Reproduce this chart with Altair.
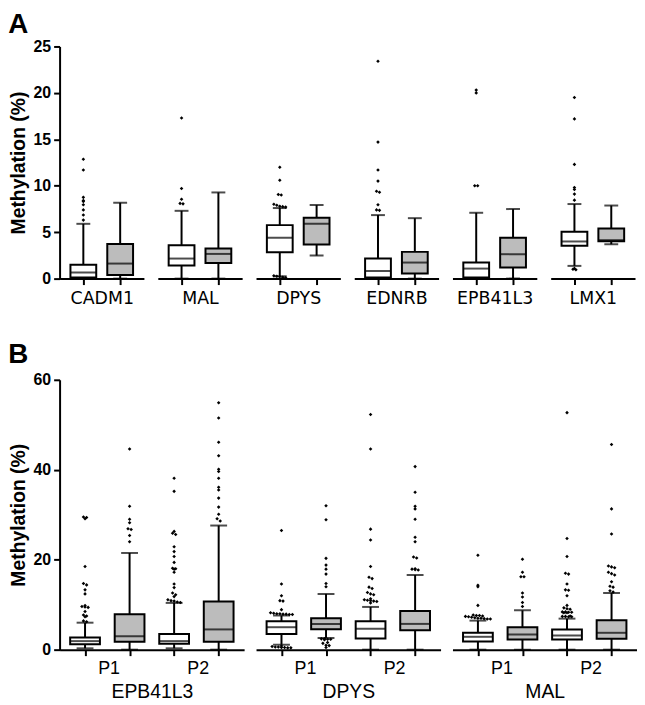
import altair as alt
import pandas as pd

FONT = "Liberation Sans"
FONT_A_GENE = "DejaVu Sans"

# ---------------- Panel A ----------------
genes_a = ["CADM1", "MAL", "DPYS", "EDNRB", "EPB41L3", "LMX1"]
groups = ["Normal", "Tumour"]          # white box, grey box
# per gene: [white, grey]
a_lo = [[0.0, 0.0], [0.0, 0.0], [0.25, 2.48], [0.0, 0.0], [0.0, 0.0], [1.37, 3.70]]
a_q1 = [[0.12, 0.40], [1.40, 1.69], [2.85, 3.67], [0.12, 0.54], [0.12, 1.19], [3.53, 4.03]]
a_med = [[0.65, 1.62], [2.16, 2.66], [4.39, 5.90], [0.83, 1.73], [1.08, 2.63], [4.00, 4.14]]
a_q3 = [[1.50, 3.74], [3.60, 3.24], [5.76, 6.55], [2.16, 2.88], [1.73, 4.39], [5.04, 5.40]]
a_hi = [[5.90, 8.17], [7.30, 9.28], [7.60, 7.92], [6.84, 6.51], [7.09, 7.49], [8.03, 7.87]]
a_out = [
    [[12.85, 11.7, 8.75, 8.4, 8.3, 7.95, 7.4, 6.85, 6.3], []],
    [[17.3, 9.7, 8.55, 8.1, 8.05], []],
    [[12.0, 10.6, 9.05, 9.0, 8.0, 7.9, 7.8, 7.75, 7.7, 0.3, 0.25, 0.2, 0.15, 0.1], []],
    [[23.4, 14.7, 11.7, 10.5, 9.4, 9.3, 7.95, 7.4, 7.35], []],
    [[20.3, 20.0, 10.0, 10.0], []],
    [[19.5, 17.2, 12.3, 9.8, 9.6, 9.1, 8.45, 1.1, 1.0, 0.95], []],
]
a_ticks = [0, 5, 10, 15, 20, 25]

# ---------------- Panel B ----------------
genes_b = ["EPB41L3", "DPYS", "MAL"]
probes_b = ["P1", "P2"]
# per gene: [P1 white, P1 grey, P2 white, P2 grey]
b_lo = [[0.3, 0.0, 0.3, 0.0], [1.1, 2.6, 0.0, 0.0], [0.0, 0.0, 0.0, 0.0]]
b_q1 = [[1.2, 1.76, 1.3, 1.76], [3.5, 4.55, 2.5, 4.33], [1.83, 2.27, 2.27, 2.43]]
b_med = [[1.9, 3.0, 1.9, 4.5], [4.99, 5.7, 4.63, 5.73], [2.86, 3.37, 3.15, 3.75]]
b_q3 = [[2.7, 7.9, 3.5, 10.7], [6.3, 7.0, 6.3, 8.6], [3.74, 4.99, 4.48, 6.53]]
b_hi = [[6.0, 21.5, 10.4, 27.6], [7.6, 12.4, 9.5, 16.6], [6.46, 8.74, 6.9, 12.6]]
b_out = [
    [
        [29.5, 29.1, 29.4, 18.5, 14.7, 14.4, 13.3, 12.4, 9.8, 9.6, 9.5, 9.4, 8.5, 7.7, 7.5, 7.3, 6.4, 6.2],
        [44.6, 31.9, 29.0, 28.2, 26.9, 26.7, 25.4, 24.0],
        [38.1, 35.2, 26.3, 25.9, 25.6, 22.9, 21.8, 20.7, 19.4, 18.1, 18.0, 17.9, 17.2, 14.6, 13.8,
         12.6, 12.2, 11.8, 11.1, 10.9, 10.8, 10.6, 10.5],
        [54.9, 51.5, 46.1, 43.1, 40.1, 39.6, 38.1, 36.1, 35.5, 33.7, 31.7, 30.1, 29.1, 28.6],
    ],
    [
        [26.5, 14.6, 12.0, 10.9, 10.8, 8.9, 8.2, 8.1, 8.0, 8.0, 7.9, 7.9, 7.8, 7.8,
         0.8, 0.7, 0.6, 0.6, 0.5, 0.5, 0.4, 0.4],
        [32.0, 28.9, 20.3, 18.8, 17.9, 16.8, 14.7, 14.0, 2.4, 2.4, 2.3, 2.3, 2.2, 1.6, 1.4, 1.0, 0.9, 0.5],
        [52.3, 44.6, 26.8, 24.4, 18.5, 16.1, 15.8, 13.9, 13.6, 12.7, 12.4, 12.2, 11.3, 11.1, 11.0,
         10.9, 10.8, 10.7, 10.4],
        [40.7, 35.0, 31.9, 31.3, 29.0, 25.0, 24.0, 20.6, 20.4, 18.0, 17.9, 17.8, 17.7],
    ],
    [
        [21.0, 14.3, 14.0, 9.84, 7.7, 7.6, 7.6, 7.5, 7.4, 7.3, 7.2, 7.1, 7.0, 7.0, 6.9, 6.8, 6.8],
        [20.1, 17.2, 16.2, 16.2, 12.6, 11.7, 10.5, 9.6],
        [52.7, 24.7, 20.7, 17.0, 16.8, 14.6, 13.3, 13.2, 12.0, 9.84, 9.3, 9.1, 9.0, 8.4, 8.4, 8.3,
         8.3, 8.2, 8.2, 7.5, 7.4, 7.4, 7.3, 7.3],
        [45.6, 31.3, 25.7, 18.6, 18.4, 18.2, 17.2, 16.9, 16.6, 15.1, 14.1, 13.9, 13.1, 12.8],
    ],
]
b_ticks = [0, 20, 40, 60]

GREY = "#bcbcbc"


def make_frames(lo, q1, med, q3, hi, out, grp_names):
    boxes = pd.DataFrame({
        "xi": list(range(len(lo))),
        "grp": grp_names,
        "lo": lo, "q1": q1, "med": med, "q3": q3, "hi": hi,
    })
    rows = []
    for i, vals in enumerate(out):
        for v in vals:
            rows.append({"xi": i, "v": v})
    outs = pd.DataFrame(rows if rows else [{"xi": 0, "v": None}])
    return boxes, outs


def box_panel(boxes, outs, n, pad, width, height, ymax, yticks, bar_w, cap_w,
              bin_w, jit, x_axis, show_y, ytitle_size):
    xs = alt.Scale(domain=[-pad, n - 1 + pad], nice=False, zero=False)
    ys = alt.Scale(domain=[0, ymax], nice=False, zero=True)
    if show_y:
        yaxis = alt.Axis(values=yticks, title="Methylation (%)", titleFontSize=ytitle_size,
                         titleFontWeight="bold", labelFontWeight="bold", labelFontSize=16,
                         tickSize=6, titlePadding=5, labelPadding=3, grid=False)
    else:
        yaxis = None
    x_enc = alt.X("xi:Q", scale=xs, axis=x_axis)
    base = alt.Chart(boxes)
    whisk = base.mark_rule(color="black", strokeWidth=2).encode(
        x=x_enc, y=alt.Y("lo:Q", scale=ys, axis=yaxis), y2="hi:Q")
    box = base.mark_bar(size=bar_w, stroke="black", strokeWidth=2).encode(
        x="xi:Q", y="q1:Q", y2="q3:Q",
        color=alt.Color("grp:N", scale=alt.Scale(domain=groups, range=["white", GREY]), legend=None))
    med = base.mark_tick(orient="horizontal", size=bar_w, thickness=2, color="black").encode(
        x="xi:Q", y="med:Q")
    cap_hi = base.mark_tick(orient="horizontal", size=cap_w, thickness=2, color="black").encode(
        x="xi:Q", y="hi:Q")
    cap_lo = base.mark_tick(orient="horizontal", size=cap_w, thickness=2, color="black").encode(
        x="xi:Q", y="lo:Q")
    pts = alt.Chart(outs).transform_filter("isValid(datum.v)").transform_calculate(
        b=f"floor(datum.v / {bin_w})"
    ).transform_window(
        rn="row_number()", groupby=["xi", "b"]
    ).transform_joinaggregate(
        cnt="count()", groupby=["xi", "b"]
    ).transform_calculate(
        xj=f"datum.xi + (datum.rn - (datum.cnt + 1) / 2) * {jit}"
    ).mark_point(filled=True, shape="diamond", size=13, color="black", opacity=1).encode(
        x="xj:Q", y="v:Q")
    return alt.layer(whisk, box, med, cap_hi, cap_lo, pts).properties(width=width, height=height)


# ---- build panel A ----
A_W, A_H, A_PAD = 85, 234, 0.51
charts_a = []
for g, gene in enumerate(genes_a):
    boxes, outs = make_frames(a_lo[g], a_q1[g], a_med[g], a_q3[g], a_hi[g], a_out[g], groups)
    xa = alt.Axis(values=[0, 1], labels=False, ticks=True, tickSize=6, title=gene,
                  titleFont=FONT_A_GENE, titleFontSize=17.5, titleFontWeight="normal",
                  titlePadding=4, grid=False)
    charts_a.append(box_panel(boxes, outs, 2, A_PAD, A_W, A_H, 25, a_ticks, 26, 14,
                              0.35, 0.08, xa, g == 0, 19.5))
row_a = alt.hconcat(*charts_a, spacing=14).properties(
    title=alt.TitleParams("A", anchor="start", fontSize=28, font=FONT, fontWeight="bold",
                          offset=0, color="black"))

# ---- build panel B ----
B_W, B_H, B_PAD = 186, 272, 0.46
step_b = B_W / (3 + 2 * B_PAD)
label_expr = (f"datum.value == 0 ? '{probes_b[0]}' : datum.value == 2 ? '{probes_b[1]}' : ''")
charts_b = []
for g, gene in enumerate(genes_b):
    grp4 = [groups[0], groups[1], groups[0], groups[1]]
    boxes, outs = make_frames(b_lo[g], b_q1[g], b_med[g], b_q3[g], b_hi[g], b_out[g], grp4)
    xb = alt.Axis(values=[0, 1, 2, 3], labelExpr=label_expr, labelOffset=step_b / 2,
                  labelFontSize=18, labelFontWeight="normal", labelPadding=4,
                  labelOverlap=False, labelFlush=False, labelBound=False,
                  ticks=True, tickSize=6, title=gene, titleFontSize=19.5,
                  titleFontWeight="normal", titlePadding=5, grid=False)
    charts_b.append(box_panel(boxes, outs, 4, B_PAD, B_W, B_H, 60, b_ticks, 30, 17,
                              0.75, 0.07, xb, g == 0, 19.5))
row_b = alt.hconcat(*charts_b, spacing=12).properties(
    title=alt.TitleParams("B", anchor="start", fontSize=28, font=FONT, fontWeight="bold",
                          offset=3, color="black"))

chart = alt.vconcat(row_a, row_b, spacing=34).properties(padding=0).configure_view(
    stroke=None
).configure_axis(
    domainColor="black", domainWidth=2, tickColor="black", tickWidth=2,
    labelColor="black", titleColor="black", labelFont=FONT, titleFont=FONT, grid=False
)

chart.save("out.html", embed_options={"renderer": "svg", "actions": False})
